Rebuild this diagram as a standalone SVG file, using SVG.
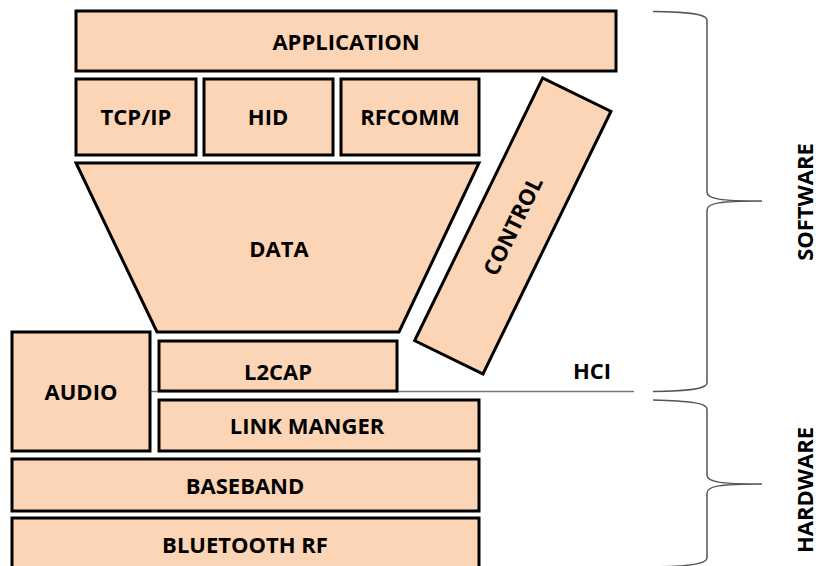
<svg xmlns="http://www.w3.org/2000/svg" width="819" height="566" viewBox="0 0 819 566">
<style>
.box{fill:#FBD5B5;stroke:#000;stroke-width:3}
.lbl{font-family:"Open Sans","Liberation Sans",sans-serif;font-weight:700;font-size:22px;fill:#000;text-anchor:middle}
.brace{fill:none;stroke:#555;stroke-width:1.5}
</style>
<rect width="819" height="566" fill="#fff"/>
<g id="application"><rect class="box" x="76" y="11" width="540" height="60"/><text class="lbl" x="346" y="50">APPLICATION</text></g>
<g id="tcpip"><rect class="box" x="76" y="79" width="120" height="76"/><text class="lbl" x="136" y="125">TCP/IP</text></g>
<g id="hid"><rect class="box" x="204" y="79" width="129" height="76"/><text class="lbl" x="268" y="125">HID</text></g>
<g id="rfcomm"><rect class="box" x="341" y="79" width="138" height="76"/><text class="lbl" x="410" y="125">RFCOMM</text></g>
<g id="data"><polygon class="box" points="76,163 479,163 399,332 157,332"/><text class="lbl" x="279" y="257">DATA</text></g>
<g id="control" transform="translate(512.8,226) rotate(26)"><rect class="box" x="-38" y="-146" width="76" height="292"/><text class="lbl" transform="rotate(-90)" x="0" y="8">CONTROL</text></g>
<g id="connectors"><line x1="150" y1="391.5" x2="634" y2="391.5" stroke="#777" stroke-width="1.5"/></g>
<g id="audio"><rect class="box" x="12" y="332" width="138" height="119"/><text class="lbl" x="81" y="400">AUDIO</text></g>
<g id="l2cap"><rect class="box" x="159" y="341" width="238" height="50"/><text class="lbl" x="278" y="380">L2CAP</text></g>
<g id="linkmanager"><rect class="box" x="159" y="400" width="320" height="51"/><text class="lbl" x="307" y="434">LINK MANGER</text></g>
<g id="baseband"><rect class="box" x="12" y="459" width="467" height="52"/><text class="lbl" x="245" y="494">BASEBAND</text></g>
<g id="bluetoothrf"><rect class="box" x="12" y="518" width="467" height="60"/><text class="lbl" x="245" y="553">BLUETOOTH RF</text></g>
<g id="hci"><text class="lbl" x="592" y="379">HCI</text></g>
<g id="software-brace"><path class="brace" d="M653,11.5 C690,12 707,14 707,20 L707,192 C707,199 720,201 762,201 C720,201 707,203 707,210 L707,383 C707,389 690,391 653,391.5"/><text class="lbl" transform="translate(813,202) rotate(-90)" x="0" y="0">SOFTWARE</text></g>
<g id="hardware-brace"><path class="brace" d="M653,400 C690,401 707,403 707,409 L707,475 C707,482 720,484 762,484 C720,484 707,486 707,493 L707,558 C707,564 690,566 653,567"/><text class="lbl" transform="translate(813,490) rotate(-90)" x="0" y="0">HARDWARE</text></g>
</svg>
